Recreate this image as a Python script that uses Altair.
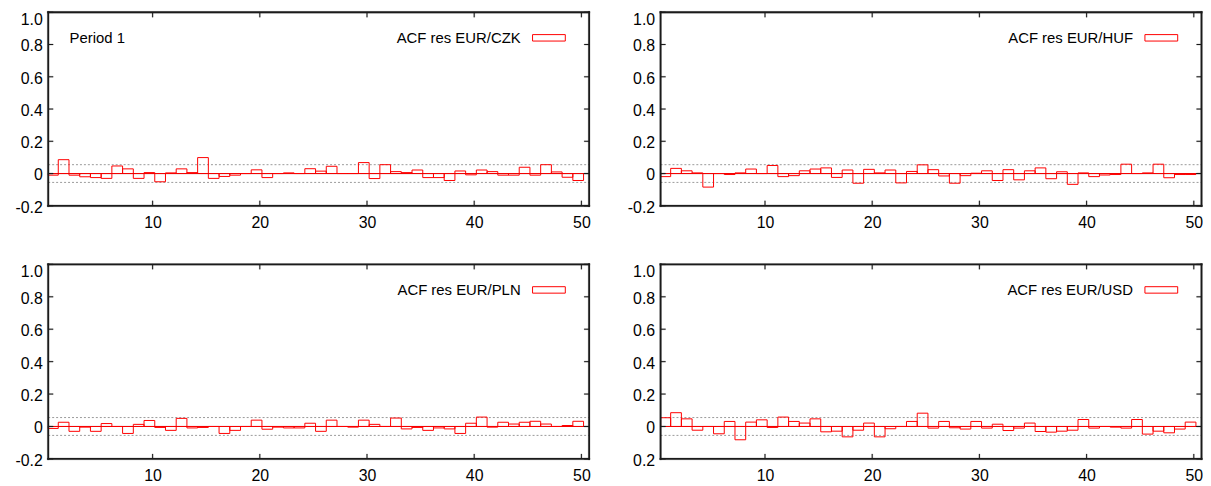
import altair as alt
import pandas as pd

lags = list(range(1, 51))
acf_czk = [-0.01, 0.086, -0.01, -0.02, -0.025, -0.03, 0.047, 0.029, -0.03, 0.006,
           -0.051, 0.004, 0.029, 0.006, 0.099, -0.03, -0.018, -0.01, 0.0, 0.023,
           -0.025, 0.0, 0.004, 0.0, 0.03, 0.015, 0.045, 0.0, 0.0, 0.068,
           -0.031, 0.055, 0.012, 0.006, 0.022, -0.025, -0.025, -0.043, 0.016, -0.008,
           0.022, 0.012, -0.01, -0.01, 0.039, -0.01, 0.055, 0.01, -0.023, -0.043]
acf_huf = [-0.019, 0.032, 0.017, 0.004, -0.084, 0.0, -0.006, 0.004, 0.028, 0.0,
           0.05, -0.019, -0.013, 0.017, 0.028, 0.035, -0.024, 0.022, -0.06, 0.026,
           0.004, 0.022, -0.058, 0.013, 0.054, 0.024, -0.015, -0.06, -0.013, 0.002,
           0.017, -0.043, 0.024, -0.039, 0.017, 0.035, -0.032, 0.011, -0.067, 0.004,
           -0.019, -0.009, -0.006, 0.058, 0.0, 0.004, 0.058, -0.026, -0.006, -0.006]
acf_pln = [-0.012, 0.026, -0.03, -0.004, -0.03, 0.018, 0.0, -0.043, 0.013, 0.037,
           -0.006, -0.024, 0.05, -0.009, -0.006, 0.0, -0.043, -0.024, 0.0, 0.039,
           -0.017, -0.004, -0.009, -0.009, 0.02, -0.03, 0.039, 0.0, -0.004, 0.039,
           0.013, 0.0, 0.052, -0.015, -0.006, -0.024, -0.009, -0.015, -0.043, 0.02,
           0.058, -0.004, 0.026, 0.015, 0.026, 0.032, 0.015, 0.0, 0.006, 0.032]
acf_usd = [0.054, 0.085, 0.047, -0.023, 0.0, -0.045, 0.031, -0.082, 0.027, 0.041,
           -0.006, 0.058, 0.031, 0.021, 0.047, -0.033, -0.029, -0.064, -0.023, 0.021,
           -0.064, -0.014, 0.0, 0.031, 0.082, -0.01, 0.031, -0.008, -0.016, 0.031,
           -0.01, 0.014, -0.025, -0.01, 0.021, -0.031, -0.035, -0.029, -0.023, 0.043,
           -0.01, 0.0, -0.004, -0.01, 0.043, -0.047, -0.029, -0.039, -0.016, 0.027]
series_names = ["ACF res EUR/CZK", "ACF res EUR/HUF", "ACF res EUR/PLN", "ACF res EUR/USD"]
conf_band = [0.055, -0.055]
x_ticks = [10, 20, 30, 40, 50]
y_ticks = [-0.2, 0.0, 0.2, 0.4, 0.6, 0.8, 1.0]
period_label = "Period 1"

FONT = "Liberation Sans"
W = 545
RED = "#ff0000"
INK = "#1c1c1c"
XDOM = [0.26, 50.72]
YDOM = [-0.2, 1.0]
PADPX = 1.5   # the frame sits this many px inside the cell
FRAME_PX = 1.8
TICK_PX = 5


def panel(values, name, H, period=None, minus=True):
    xu = (XDOM[1] - XDOM[0]) / W      # data units per pixel
    yu = (YDOM[1] - YDOM[0]) / H
    xs = alt.Scale(domain=[XDOM[0] - PADPX * xu, XDOM[1] + PADPX * xu], nice=False, zero=False)
    ys = alt.Scale(domain=[YDOM[0] - PADPX * yu, YDOM[1] + PADPX * yu], nice=False, zero=False)
    if minus:
        lab = "datum.value == 0 ? '0' : (datum.value < 0 ? '-' + format(abs(datum.value), '.1f') : format(datum.value, '.1f'))"
    else:
        lab = "datum.value == 0 ? '0' : format(abs(datum.value), '.1f')"
    xaxis = alt.Axis(values=x_ticks, ticks=False, tickSize=0, domain=False, grid=False,
                     labelPadding=7, labelFontSize=16, labelFont=FONT,
                     labelColor="black", title=None, labelFlush=False)
    yaxis = alt.Axis(values=y_ticks, ticks=False, tickSize=0, domain=False, grid=False,
                     labelPadding=4.5, labelFontSize=16, labelFont=FONT,
                     labelColor="black", title=None, labelExpr=lab,
                     labelOffset={"condition": {"test": "datum.value == 1", "value": 7}, "value": 1.5})

    def X(f):
        return alt.X(f, scale=xs, axis=xaxis)

    def Y(f):
        return alt.Y(f, scale=ys, axis=yaxis)

    df = pd.DataFrame({"lag": lags, "acf": values})
    zero_df = pd.DataFrame({"v": [0.0]})
    conf_df = pd.DataFrame({"v": conf_band})
    lab_df = pd.DataFrame({"label": [name]})

    hx, hy = FRAME_PX / 2 * xu, FRAME_PX / 2 * yu
    frame_df = pd.DataFrame([
        {"fx0": XDOM[0] - hx, "fx1": XDOM[1] + hx, "fy0": YDOM[1] - hy, "fy1": YDOM[1] + hy},
        {"fx0": XDOM[0] - hx, "fx1": XDOM[1] + hx, "fy0": YDOM[0] - hy, "fy1": YDOM[0] + hy},
        {"fx0": XDOM[0] - hx, "fx1": XDOM[0] + hx, "fy0": YDOM[0] - hy, "fy1": YDOM[1] + hy},
        {"fx0": XDOM[1] - hx, "fx1": XDOM[1] + hx, "fy0": YDOM[0] - hy, "fy1": YDOM[1] + hy},
    ])
    tk = []
    for t in x_ticks:
        tk.append({"tx0": t - 0.5 * xu, "tx1": t + 0.5 * xu, "ty0": YDOM[0], "ty1": YDOM[0] + TICK_PX * yu})
        tk.append({"tx0": t - 0.5 * xu, "tx1": t + 0.5 * xu, "ty0": YDOM[1] - TICK_PX * yu, "ty1": YDOM[1]})
    for t in y_ticks:
        tk.append({"tx0": XDOM[0], "tx1": XDOM[0] + TICK_PX * xu, "ty0": t - 0.5 * yu, "ty1": t + 0.5 * yu})
        tk.append({"tx0": XDOM[1] - TICK_PX * xu, "tx1": XDOM[1], "ty0": t - 0.5 * yu, "ty1": t + 0.5 * yu})
    tick_df = pd.DataFrame(tk)

    dotted = alt.Chart(conf_df).transform_calculate(a=str(XDOM[0]), b=str(XDOM[1])).mark_rule(
        color="#9a9a9a", strokeWidth=1, strokeDash=[2, 2]).encode(y=Y("v:Q"), x=X("a:Q"), x2="b:Q")
    zero = alt.Chart(zero_df).transform_calculate(a=str(XDOM[0]), b=str(XDOM[1])).mark_rule(
        stroke=INK, strokeWidth=1).encode(y=Y("v:Q"), x=X("a:Q"), x2="b:Q")
    boxes = alt.Chart(df).transform_calculate(
        x0=f"max(datum.lag - 0.8, {XDOM[0]})", x1="datum.lag + 0.2", base="0"
    ).mark_rect(fillOpacity=0, stroke=RED, strokeWidth=1).encode(
        x=X("x0:Q"), x2="x1:Q", y=Y("acf:Q"), y2="base:Q"
    )
    ticks = alt.Chart(tick_df).mark_rect(fill=INK, fillOpacity=1, stroke=INK, strokeWidth=0.2).encode(
        x=X("tx0:Q"), x2="tx1:Q", y=Y("ty0:Q"), y2="ty1:Q")
    frame = alt.Chart(frame_df).mark_rect(fill=INK, fillOpacity=1, stroke=INK, strokeWidth=0.2).encode(
        x=X("fx0:Q"), x2="fx1:Q", y=Y("fy0:Q"), y2="fy1:Q")
    legtxt = alt.Chart(lab_df).mark_text(align="right", baseline="middle", font=FONT, fontSize=15, color="black").encode(
        text="label:N", x=alt.value(476 + PADPX), y=alt.value(25.5 + PADPX))
    legbox = alt.Chart(lab_df).mark_rect(fillOpacity=0, stroke=RED, strokeWidth=1).encode(
        x=alt.value(488 + PADPX), x2=alt.value(521 + PADPX), y=alt.value(22.5 + PADPX), y2=alt.value(29 + PADPX))
    layers = [dotted, zero, boxes, ticks, frame, legtxt, legbox]
    if period:
        pdf = pd.DataFrame({"label": [period]})
        layers.append(alt.Chart(pdf).mark_text(align="left", baseline="middle", font=FONT, fontSize=15, color="black").encode(
            text="label:N", x=alt.value(21.5 + PADPX), y=alt.value(25.5 + PADPX)))
    return alt.layer(*layers).properties(width=W + 2 * PADPX, height=H + 2 * PADPX)


p1 = panel(acf_czk, series_names[0], 195, period=period_label)
p2 = panel(acf_huf, series_names[1], 195)
p3 = panel(acf_pln, series_names[2], 196)
p4 = panel(acf_usd, series_names[3], 196, minus=False)

chart = alt.concat(
    p1, p2, p3, p4, columns=2,
    spacing={"row": 33, "column": 36},
).properties(
    padding={"left": 6, "top": 1, "right": 0, "bottom": 0}
).configure(
    background="white",
    view=alt.ViewConfig(strokeWidth=0),
)

chart.save("out.html", embed_options={"renderer": "svg", "actions": False})
